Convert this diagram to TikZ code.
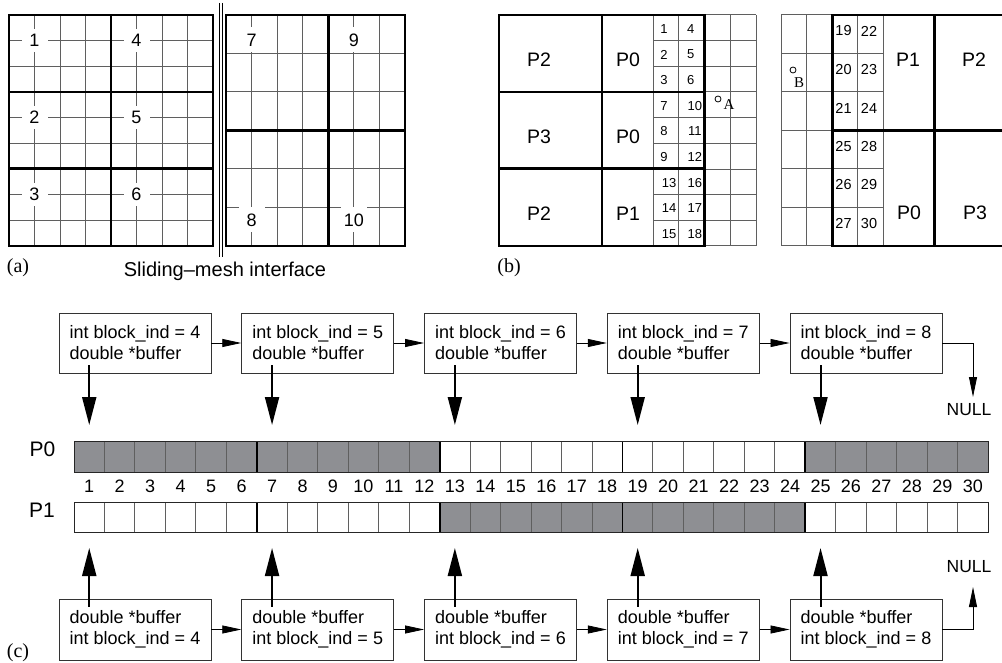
\documentclass[tikz,border=0pt]{standalone}
\usepackage{fontspec}
\setmainfont{Liberation Serif}
\setsansfont{Liberation Sans}
\usetikzlibrary{arrows.meta,calc}
\definecolor{cellgray}{RGB}{142,143,147}
\definecolor{thingray}{RGB}{95,95,95}
\begin{document}
\begin{tikzpicture}[x=1pt,y=-1pt,
  thinl/.style={line width=1pt, draw=thingray},
  thickl/.style={line width=2.6pt, draw=black},
  alabel/.style={font=\sffamily\fontsize{18}{18}\selectfont, fill=white, inner sep=0pt, minimum width=26pt, minimum height=23pt},
  plabel/.style={font=\sffamily\fontsize{19.5}{19.5}\selectfont},
  bnum/.style={font=\sffamily\fontsize{13}{13}\selectfont, inner sep=0pt},
  bnumr/.style={font=\sffamily\fontsize{14.5}{14.5}\selectfont, inner sep=0pt},
  figlabel/.style={font=\fontsize{20}{20}\selectfont},
  ptlabel/.style={font=\fontsize{15}{15}\selectfont, inner sep=0pt},
  listbox/.style={draw=black!80, line width=0.9pt, minimum width=152pt, minimum height=60pt, inner sep=0pt, align=left, font=\sffamily\fontsize{18}{21}\selectfont},
  cell/.style={draw=thingray, line width=0.9pt, minimum width=30.47pt, minimum height=31pt, inner sep=0pt, outer sep=0pt},
  numl/.style={font=\sffamily\fontsize{18}{18}\selectfont},
  harrow/.style={line width=0.8pt, -{Triangle[length=19pt,width=8pt]}},
  varrow/.style={line width=2pt, -{Triangle[length=28pt,width=14pt]}},
  narrow/.style={line width=0.9pt, -{Triangle[length=20pt,width=8pt]}},
  nulll/.style={font=\sffamily\fontsize{17.5}{17.5}\selectfont}
]
\useasboundingbox (0,0) rectangle (1002,663);

% ---------- panel (a), left mesh ----------
\foreach \i in {1,2,3,5,6,7} \draw[thinl] ({9+\i*25.5},15) -- ({9+\i*25.5},246);
\foreach \j in {1,2,4,5,7,8} \draw[thinl] (9,{15+\j*25.667}) -- (213,{15+\j*25.667});
\draw[thickl] (9,15) rectangle (213,246);
\draw[thickl] (111,15) -- (111,246);
\draw[thickl] (9,92) -- (213,92);
\draw[thickl] (9,168.3) -- (213,168.3);
\node[alabel] (a1) at (34.5,40.7) {1};
\node[alabel] (a2) at (34.5,117.7) {2};
\node[alabel] (a3) at (34.5,194.7) {3};
\node[alabel] (a4) at (136.5,40.7) {4};
\node[alabel] (a5) at (136.5,117.7) {5};
\node[alabel] (a6) at (136.5,194.7) {6};

% ---------- panel (a), right mesh ----------
\foreach \i in {1,2,3,5,6} \draw[thinl] ({226+\i*25.57},15) -- ({226+\i*25.57},246);
\foreach \j in {1,2,4,5} \draw[thinl] (226,{15+\j*38.5}) -- (405,{15+\j*38.5});
\draw[thickl] (226,15) rectangle (405,246);
\draw[thickl] (328.3,15) -- (328.3,246);
\draw[thickl] (226,130.5) -- (405,130.5);
\node[alabel, minimum height=25pt] (a7) at (251.6,40) {7};
\node[alabel, minimum height=25pt] (a9) at (353.9,40) {9};
\node[alabel, minimum height=25pt] (a8) at (251.6,220) {8};
\node[alabel, minimum height=25pt] (a10) at (353.9,220) {10};

% sliding interface double line
\draw[line width=0.8pt] (219,3) -- (219,257);
\draw[line width=0.8pt] (222.5,3) -- (222.5,257);
\node[font=\sffamily\fontsize{20}{20}\selectfont] (slide) at (225,271) {Sliding–mesh interface};
\node[figlabel] (la) at (18,268) {(a)};

% ---------- panel (b), left ----------
\foreach \j in {1,...,8} \draw[thinl] (653.2,{15+\j*25.667}) -- (756,{15+\j*25.667});
\draw[thinl] (704.6,15) -- (756,15);
\draw[thinl] (704.6,246) -- (756,246);
\foreach \xx in {653.2,678.9,730.3,756} \draw[thinl] (\xx,15) -- (\xx,246);
\draw[thickl] (499,15) rectangle (704.6,246);
\draw[thickl] (601.8,15) -- (601.8,246);
\draw[thickl] (499,92) -- (704.6,92);
\draw[thickl] (499,168.3) -- (704.6,168.3);
\node[plabel] (bl1) at (539,60) {P2};
\node[plabel] (bl2) at (628,60) {P0};
\node[plabel] (bl3) at (539,137) {P3};
\node[plabel] (bl4) at (628,137) {P0};
\node[plabel] (bl5) at (539,214) {P2};
\node[plabel] (bl6) at (628,214) {P1};
\foreach \b in {0,1,2} \foreach \r in {0,1,2} {
  \pgfmathtruncatemacro\L{6*\b+\r+1}
  \pgfmathtruncatemacro\R{6*\b+\r+4}
  \pgfmathsetmacro\yy{15+(3*\b+\r+0.5)*25.667+1}
  \pgfmathsetmacro\dxL{\L>9 ? 3 : -2}
  \pgfmathsetmacro\dxR{\R>9 ? 3 : -1}
  \node[bnum] (bn\L) at ({666+\dxL},\yy) {\L};
  \node[bnum] (bn\R) at ({691.8+\dxR},\yy) {\R};
}
\draw[line width=0.8pt] (718,99) circle[radius=3pt];
\node[ptlabel] (ptA) at (729,105) {A};
\node[figlabel] (lb) at (509,268) {(b)};

% ---------- panel (b), right ----------
\foreach \xx in {781,806.6,857.8,883.4} \draw[thinl] (\xx,15) -- (\xx,246);
\foreach \j in {0,...,6} \draw[thinl] (781,{15+\j*38.5}) -- (832.2,{15+\j*38.5});
\foreach \j in {1,2,4,5} \draw[thinl] (832.2,{15+\j*38.5}) -- (883.4,{15+\j*38.5});
\draw[thickl] (1002,15) -- (832.2,15) -- (832.2,246) -- (1002,246);
\draw[thickl] (934.6,15) -- (934.6,246);
\draw[thickl] (832.2,130.5) -- (1002,130.5);
\node[plabel] (br1) at (908,60) {P1};
\node[plabel] (br2) at (974,60) {P2};
\node[plabel] (br3) at (909,213) {P0};
\node[plabel] (br4) at (975,213) {P3};
\foreach \b in {0,1} \foreach \r in {0,1,2} {
  \pgfmathtruncatemacro\L{19+6*\b+\r}
  \pgfmathtruncatemacro\R{22+6*\b+\r}
  \pgfmathsetmacro\yy{15+(3*\b+\r+0.5)*38.5-3.3}
  \node[bnumr] (bn\L) at (843.5,\yy) {\L};
  \node[bnumr] (bn\R) at (869,\yy) {\R};
}
\draw[line width=0.8pt] (793,70) circle[radius=3pt];
\node[ptlabel] (ptB) at (799,83) {B};

% ---------- panel (c) ----------
\node[font=\sffamily\fontsize{21}{21}\selectfont] (lp0) at (42.5,449) {P0};
\node[font=\sffamily\fontsize{21}{21}\selectfont] (lp1) at (42,510) {P1};
\foreach \c in {1,...,30}{
  \pgfmathsetmacro\cx{74+(\c-0.5)*30.47}
  \ifnum\c<13 \def\fa{cellgray}\def\fb{white}\else\ifnum\c<25 \def\fa{white}\def\fb{cellgray}\else\def\fa{cellgray}\def\fb{white}\fi\fi
  \node[cell, fill=\fa] (p0c\c) at (\cx,456.5) {};
  \node[cell, fill=\fb, minimum height=30pt] (p1c\c) at (\cx,517) {};
  \node[numl] (num\c) at (\cx,486) {\c};
}
\foreach \c in {6,12,18,24}{
  \draw[line width=1.8pt] (p0c\c.north east) -- (p0c\c.south east);
  \draw[line width=1.8pt] (p1c\c.north east) -- (p1c\c.south east);
}
\draw[line width=1pt, draw=black!85] (p0c1.north west) rectangle (p0c30.south east);
\draw[line width=1pt, draw=black!85] (p1c1.north west) rectangle (p1c30.south east);

\foreach \k in {0,...,4}{
  \pgfmathtruncatemacro\v{\k+4}
  \node[listbox] (t\k) at ({135+182.75*\k},343) {int block\_ind = \v\\double *buffer};
  \node[listbox, minimum height=61pt] (b\k) at ({135+182.75*\k},629.5) {double *buffer\\int block\_ind = \v};
}
\foreach \k in {0,...,3}{
  \pgfmathtruncatemacro\n{\k+1}
  \draw[harrow] (t\k.east) -- (t\n.west);
  \draw[harrow] (b\k.east) -- (b\n.west);
}
\foreach \k in {0,...,4}{
  \pgfmathtruncatemacro\c{6*\k+1}
  \draw[varrow] ($(t\k.south -| p0c\c.center)+(0,-8)$) -- ($(p0c\c.north)+(0,-16)$);
  \draw[varrow] ($(b\k.north -| p1c\c.center)+(0,8)$) -- ($(p1c\c.south)+(0,16)$);
}
\coordinate (nt) at (973,397);
\coordinate (nb) at (973,587);
\draw[narrow] (t4.east) -| (nt);
\draw[narrow] (b4.east) -| (nb);
\node[nulll] (null1) at (969,410) {NULL};
\node[nulll] (null2) at (969,567) {NULL};
\node[figlabel] (lc) at (18,653) {(c)};
\end{tikzpicture}
\end{document}
